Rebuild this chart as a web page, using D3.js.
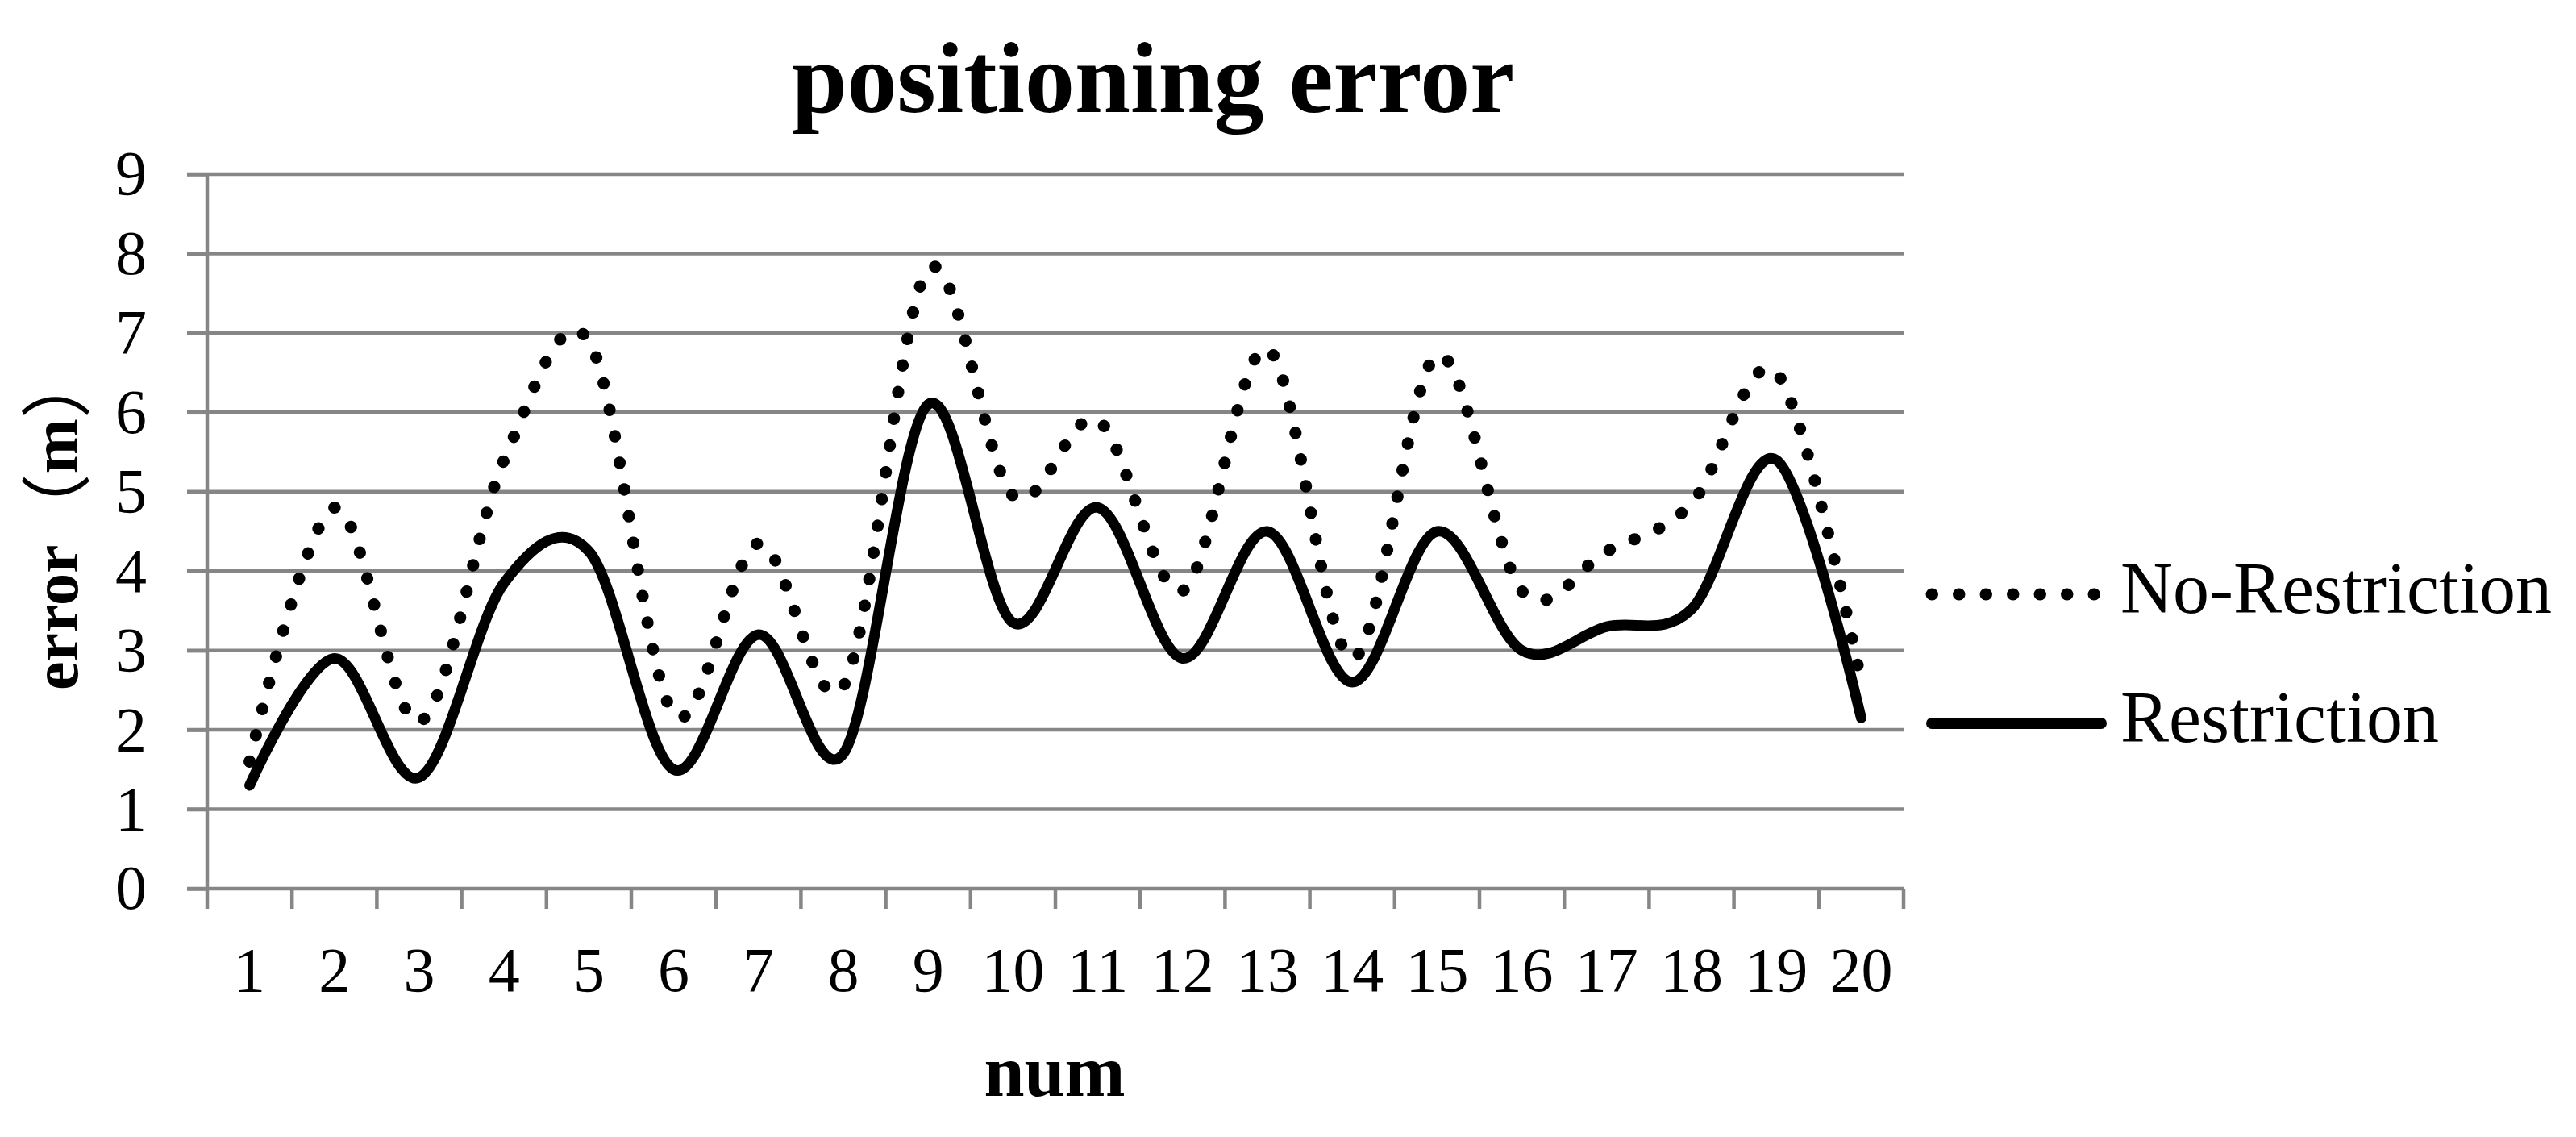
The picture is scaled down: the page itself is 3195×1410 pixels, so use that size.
<!DOCTYPE html>
<html>
<head>
<meta charset="utf-8">
<script src="https://cdn.jsdelivr.net/npm/d3@7"></script>
<style>
  html, body { margin: 0; padding: 0; background: #fff; }
  svg { display: block; }
  .ytitle, .ytitle tspan { text-spacing-trim: space-all; }
</style>
</head>
<body>
<svg id="chart" width="3195" height="1410"></svg>
<script>
// ---- data ----
const categories = ["1","2","3","4","5","6","7","8","9","10","11","12","13","14","15","16","17","18","19","20"];
const noRestriction = [1.6, 4.8, 2.1, 5.4, 6.9, 2.2, 4.35, 2.55, 7.8, 4.95, 5.9, 3.75, 6.8, 2.9, 6.72, 3.75, 4.25, 4.85, 6.5, 2.6];
const restriction   = [1.3, 2.9, 1.4, 3.85, 4.25, 1.5, 3.2, 1.7, 6.1, 3.35, 4.8, 2.9, 4.5, 2.6, 4.5, 3.0, 3.3, 3.52, 5.4, 2.15];
const yTicks = [0,1,2,3,4,5,6,7,8,9];
const seriesNames = ["No-Restriction", "Restriction"];
const titleText = "positioning error";
const xTitle = "num";
const yTitleParts = ["error", "（", "m", "）"];

(function () {
const serif = '"Liberation Serif", "Times New Roman", serif';
const cjk = '"Noto Sans CJK SC", "Noto Sans CJK JP", sans-serif';
// ---- layout ----
const svg = d3.select("#chart").style("font-family", serif);
const pL = 257, pR = 2361, pT = 216, pB = 1102;
const gridColor = "#868686";

const x = d3.scaleBand().domain(categories).range([pL, pR]).padding(0);
const y = d3.scaleLinear().domain([0, 9]).range([pB, pT]);

// gridlines (extend left past axis as tick marks)
svg.append("g").selectAll("line").data(yTicks).join("line")
  .attr("x1", pL - 25).attr("x2", pR)
  .attr("y1", d => y(d)).attr("y2", d => y(d))
  .attr("stroke", gridColor).attr("stroke-width", 4.5);

// y axis
const yAxis = svg.append("g").attr("transform", `translate(${pL},0)`)
  .call(d3.axisLeft(y).tickValues(yTicks).tickSize(25).tickPadding(50).tickFormat(d3.format("d")));
yAxis.select(".domain").attr("stroke", gridColor).attr("stroke-width", 4.5)
  .attr("d", `M0,${pB}V${pT}`);
yAxis.selectAll(".tick line").attr("stroke", gridColor).attr("stroke-width", 4.5);
yAxis.selectAll(".tick text").attr("font-size", 78).style("font-family", serif).attr("fill", "#000");

// x axis: labels at band centers, ticks at band boundaries
const xAxis = svg.append("g").attr("transform", `translate(0,${pB})`)
  .call(d3.axisBottom(x).tickSize(0).tickPadding(72));
xAxis.select(".domain").remove();
xAxis.selectAll(".tick text").attr("font-size", 78).style("font-family", serif).attr("fill", "#000");
const bounds = d3.range(categories.length + 1).map(i => pL + i * x.bandwidth());
svg.append("g").selectAll("line").data(bounds).join("line")
  .attr("x1", d => d).attr("x2", d => d)
  .attr("y1", pB).attr("y2", pB + 25)
  .attr("stroke", gridColor).attr("stroke-width", 4.5);

// lines
const line = d3.line()
  .x((d, i) => x(categories[i]) + x.bandwidth() / 2)
  .y(d => y(d))
  .curve(d3.curveCatmullRom.alpha(0));

svg.append("path").datum(restriction)
  .attr("d", line).attr("fill", "none").attr("stroke", "#000")
  .attr("stroke-width", 13).attr("stroke-linejoin", "round").attr("stroke-linecap", "round");

svg.append("path").datum(noRestriction)
  .attr("d", line).attr("fill", "none").attr("stroke", "#000")
  .attr("stroke-width", 15).attr("stroke-linecap", "round")
  .attr("stroke-dasharray", "0.5 33");

// legend
const lg = svg.append("g");
lg.append("line").attr("x1", 2396).attr("x2", 2600).attr("y1", 737).attr("y2", 737)
  .attr("stroke", "#000").attr("stroke-width", 15).attr("stroke-linecap", "round")
  .attr("stroke-dasharray", "0.5 33");
lg.append("text").attr("x", 2630).attr("y", 760).attr("font-size", 90).text(seriesNames[0]);
lg.append("line").attr("x1", 2396).attr("x2", 2606).attr("y1", 897).attr("y2", 897)
  .attr("stroke", "#000").attr("stroke-width", 14).attr("stroke-linecap", "round");
lg.append("text").attr("x", 2630).attr("y", 920).attr("font-size", 90).text(seriesNames[1]);

// titles
svg.append("text").attr("x", 1430).attr("y", 139).attr("text-anchor", "middle")
  .attr("font-size", 124).attr("font-weight", "bold").text(titleText);
svg.append("text").attr("x", 1308).attr("y", 1359).attr("text-anchor", "middle")
  .attr("font-size", 90).attr("font-weight", "bold").text(xTitle);

const yt = svg.append("text").attr("class", "ytitle")
  .attr("transform", "translate(96,856) rotate(-90)")
  .attr("text-anchor", "start").attr("font-weight", "bold");
yt.append("tspan").attr("font-size", 80).text(yTitleParts[0]);
yt.append("tspan").attr("font-size", 88).style("font-family", cjk)
  .attr("font-weight", "normal").attr("dy", 6).text(yTitleParts[1]);
yt.append("tspan").attr("font-size", 82).attr("dy", -6).text(yTitleParts[2]);
yt.append("tspan").attr("font-size", 88).style("font-family", cjk)
  .attr("font-weight", "normal").attr("dy", 6).text(yTitleParts[3]);
})();
</script>
</body>
</html>
